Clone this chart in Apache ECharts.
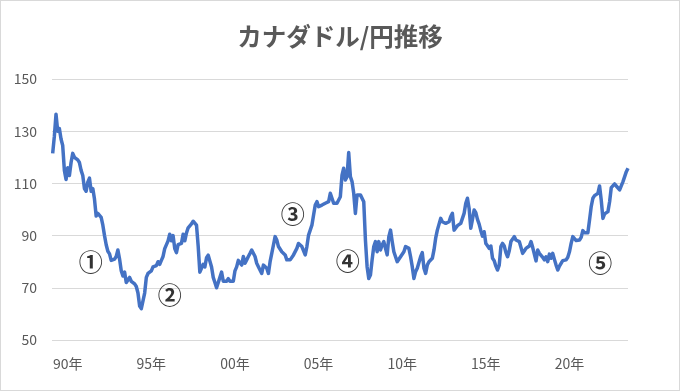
<!DOCTYPE html>
<html>
<head>
<meta charset="utf-8">
<script src="https://cdn.jsdelivr.net/npm/echarts@6/dist/echarts.min.js"></script>
<style>
html,body{margin:0;padding:0;background:#fff;}
#wrap{position:relative;width:680px;height:391px;}
#chart{position:absolute;left:0;top:0;width:680px;height:391px;}
#frame{position:absolute;left:0;top:0;width:680px;height:391px;box-sizing:border-box;border:1px solid #d9d9d9;pointer-events:none;}
</style>
</head>
<body>
<div id="wrap"><div id="chart"></div><div id="frame"></div></div>
<script>
// Time grid: readings every 0.1 year starting at 1989.1
const startYear = 1989.1;
const stepYear = 0.1;

// CAD/JPY values, 1989.1 - 2000.2
const values1990s = [
121.5,128,136.5,130,131,127,124.5,115,111.5,116,
113,118,121.5,120,120,119,118,115,113,108,
107,110.5,112,107,108,104,97.5,98.5,98,97,
94,90,86.5,84,83,80.5,80,81,82,84.5,
81,76.5,74.5,76,72,73,74,72.5,72,71.5,
70.5,68,63,62,62.5,68,74,75.5,75.5,76.5,
78,78,78.5,80,79,80.5,82,85,85.5,88,
90.5,88,90,85,83.5,86.5,86,87,90.5,88,
91,93,93,94.5,95.5,96,94,86,76,75.5,
79,78,81.5,82.5,83,78,74,72,70,70.5,
74,76,72.5,72,72.5,73.5,72.5,72,72.5,76.5,
78,80.5
];
// 2000.3 - 2012.2
const values2000s = [
80,78.7,82,79.4,80.7,82,83.2,84.5,85.1,82,
79.4,78.1,77.5,75.5,78.7,79.4,77.5,75.5,80,83.2,
86.4,89.6,88.3,85.8,85.1,83.8,84.5,82.6,80.7,80,
80.7,81.3,82.6,83.2,85.1,87,87.7,85.8,86.4,82.6,
85.8,90.2,92.1,94,97.9,101.7,103,101.1,101.7,101.7,
101.1,102.4,102.1,103,106.2,104.3,102.4,101.7,102.4,101.7,
104.9,113.2,115.8,111.3,112.6,121.8,112.6,110.7,106.2,98.5,
105.6,106.2,105.6,105.6,103,88.3,78.1,73.6,74.9,80.7,
85.8,87.7,83.8,87.7,84.5,86.4,87.7,85.1,82.6,89.6,
92.1,87.7,83.8,83.2,80,80.7,81.9,82.6,83.8,85.8,
86.4,85.1,81.9,78.1,73.6,76.2,77.5,76.8,81.9,83.5,
77.5,75.5,78.7,80,80,81.3,84.5,89,92.1,92.8
];
// 2012.3 - 2023.5
const values2010s = [
96.6,95.3,96,94.7,94,95.3,97.3,98.5,92.1,92.8,
93.8,94.4,94.7,96.6,98.5,102.4,104.3,100.4,92.8,96.2,
99.8,98.8,96.2,94.4,91.9,89.8,91.5,87,86.1,85.1,
86,81.3,80.4,78.3,76.8,78.7,85.8,87,86,83.5,
81.9,84.2,87.7,88.3,89.6,88.3,89,87.7,87.7,83.2,
84.1,85.1,84.5,86,87.7,85.5,82.9,80.3,84.5,83.2,
83.8,81.7,80.7,81.9,80,82.9,81.3,83.2,80.9,78.7,
76.8,78.3,79.4,80.4,80,80.7,81.7,83.8,87,89.6,
90,88.1,88.3,88.3,89.3,91.9,91.1,90.9,91.1,96,
101.1,104.3,105.3,105.6,106.2,109,103.6,96.6,98.3,97.9,
99.2,103,108.4,109,109.8,109,109,107.5,108.1,110.7,
112.6,114.5,115.8
];

// Annotations (position in data units)
const annoLabels = ['①','②','③','④','⑤'];
const annoYears  = [1991.37, 1996.1, 2003.45, 2006.74, 2021.84];
const annoValues = [79.9, 67.2, 98.3, 80.3, 79.5];

const yTicks = {min: 50, max: 150, interval: 20};

const allValues = values1990s.concat(values2000s, values2010s);
const lineData = allValues.map((v, i) => [+(startYear + i * stepYear).toFixed(2), v]);
const annoData = annoLabels.map((t, i) => [annoYears[i], annoValues[i], t]);

const chart = echarts.init(document.getElementById('chart'), null, {renderer: 'canvas'});
const FONT = '"Noto Sans CJK JP", "Noto Sans", sans-serif';
chart.setOption({
  animation: false,
  backgroundColor: '#fff',
  title: {
    text: 'カナダドル/円推移',
    left: 'center',
    top: 19,
    textStyle: {color: '#595959', fontSize: 24.5, fontWeight: 'bold', fontFamily: FONT}
  },
  grid: {left: 52, right: 52, top: 79, bottom: 51, containLabel: false},
  xAxis: {
    type: 'value',
    min: 1989.06,
    max: 2023.5,
    splitNumber: 7,
    axisLine: {show: false},
    axisTick: {show: false},
    splitLine: {show: false},
    axisLabel: {
      color: '#595959', fontSize: 14, fontFamily: FONT, margin: 17,
      showMinLabel: false, showMaxLabel: false,
      formatter: function (v) {
        const r = Math.round(v);
        if (Math.abs(v - r) > 1e-6 || r % 5 !== 0) return '';
        return String(r % 100).padStart(2, '0') + '年';
      }
    }
  },
  yAxis: {
    type: 'value',
    min: yTicks.min, max: yTicks.max, interval: yTicks.interval,
    axisLine: {show: false},
    axisTick: {show: false},
    splitLine: {lineStyle: {color: '#d9d9d9', width: 1}},
    axisLabel: {color: '#595959', fontSize: 14, fontFamily: FONT, margin: 15}
  },
  series: [
    {
      type: 'line',
      data: lineData,
      showSymbol: false,
      lineStyle: {color: '#4472C4', width: 3.5, join: 'round'},
      itemStyle: {color: '#4472C4'},
      z: 3
    },
    {
      type: 'scatter',
      data: annoData,
      symbol: 'circle',
      symbolSize: 1,
      itemStyle: {color: 'rgba(0,0,0,0)'},
      label: {
        show: true, position: 'inside',
        formatter: p => p.data[2],
        color: '#000', fontSize: 24, fontWeight: 'bold', fontFamily: FONT
      },
      z: 4
    }
  ]
});
</script>
</body>
</html>
